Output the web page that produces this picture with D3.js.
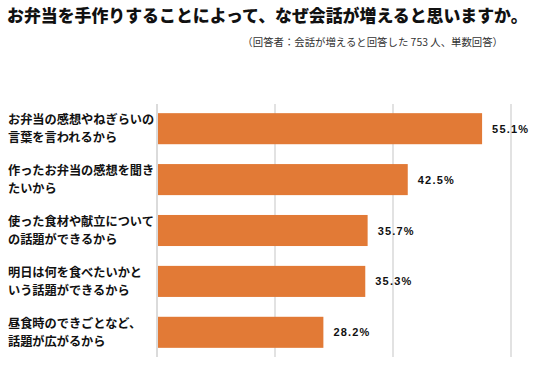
<!DOCTYPE html>
<html><head><meta charset="utf-8">
<script src="https://cdn.jsdelivr.net/npm/d3@7"></script>
<style>body{margin:0;background:#fff}svg{display:block}</style>
</head><body>
<script>
const categories = [
  ["お弁当の感想やねぎらいの","言葉を言われるから"],
  ["作ったお弁当の感想を聞き","たいから"],
  ["使った食材や献立について","の話題ができるから"],
  ["明日は何を食べたいかと","いう話題ができるから"],
  ["昼食時のできごとなど、","話題が広がるから"]
];
const values = [55.1, 42.5, 35.7, 35.3, 28.2];
const valueLabels = ["55.1%","42.5%","35.7%","35.3%","28.2%"];
const gridTicks = [0, 20, 40, 60];
const title = "お弁当を手作りすることによって、なぜ会話が増えると思いますか。";
const subtitle = "（回答者：会話が増えると回答した 753 人、単数回答）";

const W = 545, H = 380;
const svg = d3.select("body").append("svg").attr("width", W).attr("height", H);
const font = "'Noto Sans CJK JP', 'Noto Sans', sans-serif";

const x = d3.scaleLinear().domain([0, 60]).range([157, 511]);
const y = d3.scaleBand().domain(d3.range(categories.length)).range([104, 357]).paddingInner(0.39).paddingOuter(0.18);

svg.append("text").attr("x", 7).attr("y", 22).attr("font-family", font)
  .attr("font-weight", 900).attr("font-size", 16.9).attr("fill", "#111").text(title);
svg.append("text").attr("x", 503).attr("y", 46).attr("text-anchor", "end").attr("font-family", font)
  .attr("font-size", 10.4).attr("fill", "#333").text(subtitle);

// gridlines
svg.append("g").selectAll("line").data(gridTicks).join("line")
  .attr("x1", d => x(d)).attr("x2", d => x(d)).attr("y1", 104).attr("y2", 357)
  .attr("stroke", d => d === 0 ? "#cfcfcf" : "#d9d9d9").attr("stroke-width", 1.5);

svg.append("g").selectAll("rect").data(values).join("rect")
  .attr("x", x(0) + 1).attr("y", (d, i) => y(i)).attr("height", y.bandwidth())
  .attr("width", d => x(d) - x(0) - 1).attr("fill", "#E27A36");

svg.append("g").selectAll("text").data(values).join("text")
  .attr("x", d => x(d) + 10).attr("y", (d, i) => y(i) + y.bandwidth() / 2 + 4)
  .attr("font-family", "'Liberation Sans', Arial, sans-serif").attr("font-size", 11)
  .attr("font-weight", 700).attr("letter-spacing", 1.2)
  .attr("fill", "#111").text((d, i) => valueLabels[i]);

const lg = svg.append("g");
categories.forEach((c, i) => {
  const cy = y(i) + y.bandwidth() / 2;
  c.forEach((line, j) => {
    lg.append("text").attr("x", 8).attr("y", cy - 9 + j * 18 + 4.5)
      .attr("font-family", font).attr("font-size", 12.2).attr("font-weight", 700)
      .attr("fill", "#111").text(line);
  });
});
</script>
</body></html>
